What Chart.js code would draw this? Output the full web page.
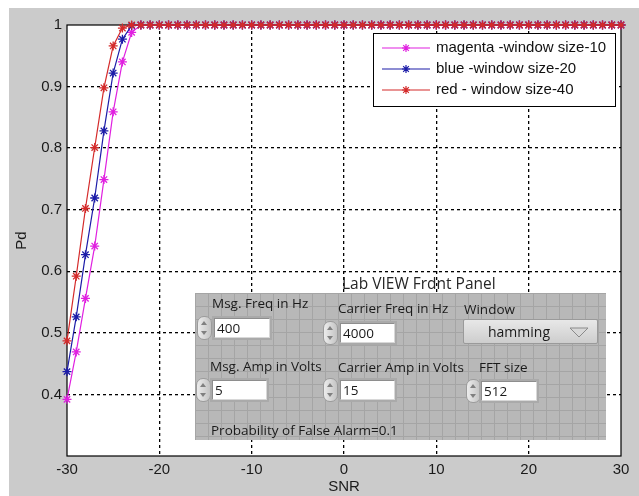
<!DOCTYPE html>
<html>
<head>
<meta charset="utf-8">
<title>Pd vs SNR</title>
<script src="https://cdn.jsdelivr.net/npm/chart.js@4.4.1/dist/chart.umd.min.js"></script>
<style>
html, body { margin: 0; padding: 0; background: #fff; }
#wrap { position: relative; width: 639px; height: 496px; overflow: hidden; }
#graph { position: absolute; left: 0; top: 0; }
.title { position: absolute; left: 342px; top: 272px; font: 15.5px "Open Sans"; color: #262626; white-space: nowrap; }
.panel {
  position: absolute; left: 195px; top: 293px; width: 411px; height: 147px;
  background-color: #b8b8b8;
  background-image: linear-gradient(#a5a5a5 1px, transparent 1px), linear-gradient(90deg, #a5a5a5 1px, transparent 1px);
  background-size: 13px 13px;
  font-family: "Open Sans"; color: #1a1a1a;
}
.lbl { position: absolute; font-size: 13.5px; line-height: 16px; white-space: nowrap; }
.num {
  position: absolute; height: 20px; background: #fff; border: 1px solid #8e8e8e; border-right-color: #d8d8d8; border-bottom-color: #d8d8d8;
  box-shadow: 0 0 0 2px #aaaaaa;
  box-sizing: border-box; font-size: 13.5px; line-height: 18px; padding-left: 2px;
}
.spin {
  position: absolute; width: 15px; height: 24px; border-radius: 7px; box-sizing: border-box;
  background: linear-gradient(90deg, #ececec, #c4c4c4); border: 1px solid #9c9c9c;
}
.spin::before, .spin::after { content: ""; position: absolute; left: 3px; border-left: 3px solid transparent; border-right: 3px solid transparent; }
.spin::before { top: 4px; border-bottom: 4px solid #808080; }
.spin::after { top: 14px; border-top: 4px solid #808080; }
.drop {
  position: absolute; left: 268px; top: 26px; width: 135px; height: 25px; box-sizing: border-box;
  background: linear-gradient(#e8e8e8, #cdcdcd); border: 1px solid #9a9a9a; border-radius: 2px;
  font-size: 14px; line-height: 23px; text-align: left; padding-left: 24px;
}
.drop svg { position: absolute; right: 8px; top: 7px; }
</style>
</head>
<body>
<div id="wrap">
  <canvas id="graph" width="639" height="496"></canvas>
  <div class="title">Lab VIEW Frdnt Panel</div>
  <div class="panel">
    <div class="lbl" style="left:17px;top:2px">Msg. Freq in Hz</div>
    <div class="spin" style="left:2px;top:23px"></div>
    <div class="num" style="left:19px;top:25px;width:56px">400</div>

    <div class="lbl" style="left:143px;top:7px">Carrier Freq in Hz</div>
    <div class="spin" style="left:128px;top:28px"></div>
    <div class="num" style="left:145px;top:30px;width:55px">4000</div>

    <div class="lbl" style="left:269px;top:8px">Window</div>
    <div class="drop">hamming
      <svg width="20" height="11"><polygon points="1,1 19,1 10,10" fill="#d8d8d8" stroke="#8a8a8a" stroke-width="1"/></svg>
    </div>

    <div class="lbl" style="left:15px;top:65px">Msg. Amp in Volts</div>
    <div class="spin" style="left:1px;top:85px"></div>
    <div class="num" style="left:17px;top:87px;width:55px">5</div>

    <div class="lbl" style="left:143px;top:66px">Carrier Amp in Volts</div>
    <div class="spin" style="left:128px;top:85px"></div>
    <div class="num" style="left:145px;top:87px;width:55px">15</div>

    <div class="lbl" style="left:284px;top:66px">FFT size</div>
    <div class="spin" style="left:271px;top:86px"></div>
    <div class="num" style="left:286px;top:88px;width:56px">512</div>

    <div class="lbl" style="left:16px;top:129px">Probability of False Alarm=0.1</div>
  </div>
</div>
<script>
// SNR axis values (dB)
const snr = [
  -30, -29, -28, -27, -26, -25, -24, -23, -22, -21,
  -20, -19, -18, -17, -16, -15, -14, -13, -12, -11,
  -10, -9, -8, -7, -6, -5, -4, -3, -2, -1,
  0, 1, 2, 3, 4, 5, 6, 7, 8, 9,
  10, 11, 12, 13, 14, 15, 16, 17, 18, 19,
  20, 21, 22, 23, 24, 25, 26, 27, 28, 29, 30
];

// Pd, window size 10 (magenta)
const pdWin10 = [
  0.392, 0.469, 0.556, 0.641, 0.749, 0.859, 0.940, 0.988, 1, 1,
  1, 1, 1, 1, 1, 1, 1, 1, 1, 1,
  1, 1, 1, 1, 1, 1, 1, 1, 1, 1,
  1, 1, 1, 1, 1, 1, 1, 1, 1, 1,
  1, 1, 1, 1, 1, 1, 1, 1, 1, 1,
  1, 1, 1, 1, 1, 1, 1, 1, 1, 1, 1
];

// Pd, window size 20 (blue)
const pdWin20 = [
  0.437, 0.526, 0.627, 0.719, 0.828, 0.922, 0.977, 0.999, 1, 1,
  1, 1, 1, 1, 1, 1, 1, 1, 1, 1,
  1, 1, 1, 1, 1, 1, 1, 1, 1, 1,
  1, 1, 1, 1, 1, 1, 1, 1, 1, 1,
  1, 1, 1, 1, 1, 1, 1, 1, 1, 1,
  1, 1, 1, 1, 1, 1, 1, 1, 1, 1, 1
];

// Pd, window size 40 (red)
const pdWin40 = [
  0.487, 0.592, 0.702, 0.801, 0.898, 0.966, 0.995, 1, 1, 1,
  1, 1, 1, 1, 1, 1, 1, 1, 1, 1,
  1, 1, 1, 1, 1, 1, 1, 1, 1, 1,
  1, 1, 1, 1, 1, 1, 1, 1, 1, 1,
  1, 1, 1, 1, 1, 1, 1, 1, 1, 1,
  1, 1, 1, 1, 1, 1, 1, 1, 1, 1, 1
];

const seriesLabels = ['magenta -window size-10', 'blue -window size-20', 'red - window size-40'];
const seriesColors = ['#e020e0', '#1c1ca8', '#d42a2a'];
const seriesValues = [pdWin10, pdWin20, pdWin40];

const xTicks = [-30, -20, -10, 0, 10, 20, 30];
const yTicks = [0.4, 0.5, 0.6, 0.7, 0.8, 0.9, 1];

const FONT = '"Liberation Sans", Arial, sans-serif';

// grey figure background + white axes area
const figureBg = {
  id: 'figureBg',
  beforeDraw(chart) {
    const { ctx, chartArea: a } = chart;
    ctx.save();
    ctx.fillStyle = '#fff';
    ctx.fillRect(0, 0, chart.width, chart.height);
    ctx.fillStyle = '#cbcbcb';
    ctx.fillRect(9, 8, chart.width - 9, chart.height - 8);
    ctx.fillStyle = '#fff';
    ctx.fillRect(a.left, a.top, a.right - a.left, a.bottom - a.top);
    ctx.restore();
  },
  beforeDatasetsDraw(chart) {
    const { ctx, chartArea: a } = chart;
    ctx.save();
    ctx.strokeStyle = '#000';
    ctx.lineWidth = 1.2;
    ctx.strokeRect(a.left, a.top, a.right - a.left, a.bottom - a.top);
    ctx.restore();
  }
};

// matlab style legend box in the upper right
const boxLegend = {
  id: 'boxLegend',
  afterDatasetsDraw(chart) {
    const { ctx } = chart;
    ctx.save();
    ctx.fillStyle = '#fff';
    ctx.fillRect(373, 33, 242, 73);
    ctx.strokeStyle = '#000';
    ctx.lineWidth = 1;
    ctx.strokeRect(373.5, 33.5, 242, 73);
    chart.data.datasets.forEach((ds, i) => {
      const y = 48 + i * 21;
      ctx.strokeStyle = ds.borderColor;
      ctx.lineWidth = 1.2;
      ctx.beginPath();
      ctx.moveTo(382, y);
      ctx.lineTo(430, y);
      ctx.stroke();
      ctx.strokeStyle = ds.pointBorderColor;
      Chart.helpers.drawPoint(ctx, { pointStyle: 'star', radius: 4, borderWidth: 1.2, rotation: 0 }, 406, y);
      ctx.fillStyle = '#111';
      ctx.font = '15px ' + FONT;
      ctx.textBaseline = 'middle';
      ctx.fillText(ds.label, 436, y);
    });
    ctx.restore();
  }
};

const datasets = seriesValues.map((vals, i) => ({
  label: seriesLabels[i],
  data: snr.map((x, j) => ({ x: x, y: vals[j] })),
  borderColor: seriesColors[i],
  borderWidth: 1.2,
  pointStyle: 'star',
  pointRadius: 4.5,
  pointBorderWidth: 1.3,
  pointBorderColor: seriesColors[i],
  pointBackgroundColor: seriesColors[i],
  tension: 0,
  clip: false,
  order: 3 - i
}));

const gridColor = (lo, hi) => (c) => {
  if (!c.tick) return '#000';
  return (c.tick.value <= lo + 1e-6 || c.tick.value >= hi - 1e-6) ? 'rgba(0,0,0,0)' : '#000';
};

new Chart(document.getElementById('graph'), {
  type: 'line',
  data: { datasets: datasets },
  options: {
    responsive: false,
    animation: false,
    devicePixelRatio: 1,
    layout: { padding: { left: 0, top: 25, right: 18, bottom: 0 } },
    plugins: { legend: { display: false }, tooltip: { enabled: false } },
    scales: {
      x: {
        type: 'linear',
        min: -30,
        max: 30,
        afterBuildTicks: (s) => { s.ticks = xTicks.map(v => ({ value: v })); },
        afterFit: (s) => { s.height = 40; },
        ticks: { color: '#1a1a1a', font: { family: FONT, size: 15 }, padding: 5 },
        grid: { color: gridColor(-30, 30), lineWidth: 1.3, drawTicks: false },
        border: { display: false, dash: [3, 3] },
        title: { display: true, text: 'SNR', color: '#1a1a1a', font: { family: FONT, size: 15 }, padding: { top: 0, bottom: 0 } }
      },
      y: {
        min: 0.3,
        max: 1,
        afterBuildTicks: (s) => { s.ticks = yTicks.map(v => ({ value: v })); },
        afterFit: (s) => { s.width = 67; },
        ticks: {
          color: '#1a1a1a', font: { family: FONT, size: 15 }, padding: 5,
          callback: (v) => String(Math.round(v * 10) / 10)
        },
        grid: { color: gridColor(0.3, 1), lineWidth: 1.3, drawTicks: false },
        border: { display: false, dash: [3, 3] },
        title: { display: true, text: 'Pd', color: '#1a1a1a', font: { family: FONT, size: 15 }, padding: { top: 13, bottom: 0 } }
      }
    }
  },
  plugins: [figureBg, boxLegend]
});
</script>
</body>
</html>
